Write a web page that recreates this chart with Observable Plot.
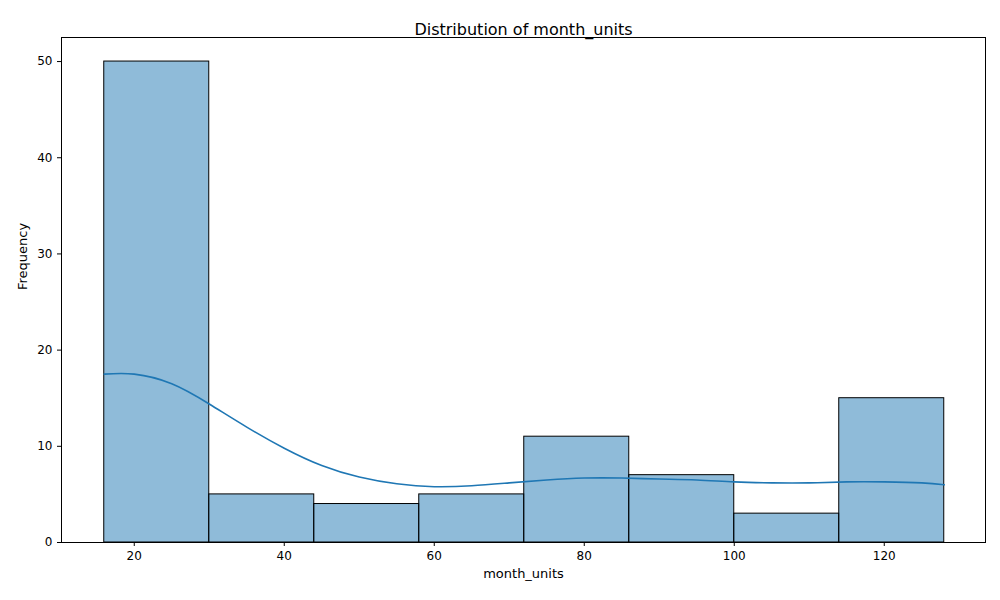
<!DOCTYPE html>
<html>
<head>
<meta charset="utf-8">
<script src="https://cdn.jsdelivr.net/npm/d3@7"></script>
<script src="https://cdn.jsdelivr.net/npm/@observablehq/plot@0.6"></script>
<style>
  body { margin: 0; background: #fff; }
</style>
</head>
<body>
<div id="chart"></div>
<script>
// histogram bins (edges) and counts
let binEdges = [16, 30, 44, 58, 72, 86, 100, 114, 128];
let counts = [50, 5, 4, 5, 11, 7, 3, 15];

// kde curve
let kdeX = [16, 20, 25, 30, 35, 40, 45, 50, 55, 60, 65, 70, 75, 80, 85, 90, 95, 100, 105, 110, 115, 120, 125, 128];
let kdeY = [17.5, 17.5, 16.5, 14.4, 12, 9.8, 8, 6.8, 6.1, 5.8, 5.9, 6.2, 6.5, 6.7, 6.7, 6.6, 6.5, 6.3, 6.2, 6.2, 6.3, 6.3, 6.2, 6.0];

let xTicks = [20, 40, 60, 80, 100, 120];
let yTicks = [0, 10, 20, 30, 40, 50];

const bars = counts.map((c, i) => ({ x1: binEdges[i], x2: binEdges[i + 1], y: c }));
const kde = kdeX.map((x, i) => ({ x, y: kdeY[i] }));

let chart = Plot.plot({
  width: 1000,
  height: 600,
  marginLeft: 61,
  marginRight: 15,
  marginTop: 37,
  marginBottom: 58,
  x: { domain: [10.3, 133.5], ticks: xTicks, label: null, tickSize: 4 },
  y: { domain: [0, 52.5], ticks: yTicks, label: null, tickSize: 4 },
  style: { fontFamily: "DejaVu Sans", fontSize: "12px", color: "#000" },
  marks: [
    Plot.rectY(bars, { x1: "x1", x2: "x2", y: "y", fill: "#1f77b4", fillOpacity: 0.5, stroke: "#000", strokeWidth: 1 }),
    Plot.line(kde, { x: "x", y: "y", stroke: "#1f77b4", strokeWidth: 1.6, curve: "natural" }),
    Plot.frame({ stroke: "#000" }),
    Plot.axisX({ ticks: xTicks, tickSize: 4, fontSize: 12, label: null }),
    Plot.axisY({ ticks: yTicks, tickSize: 4, fontSize: 12, label: null }),
    Plot.text(["Distribution of month_units"], { frameAnchor: "top", dy: -14, fontSize: 16 }),
    Plot.text(["month_units"], { frameAnchor: "bottom", dy: 35, fontSize: 13 }),
    Plot.text(["Frequency"], { frameAnchor: "left", dx: -39, rotate: -90, fontSize: 13 })
  ]
});

document.getElementById("chart").append(chart);
</script>
</body>
</html>
